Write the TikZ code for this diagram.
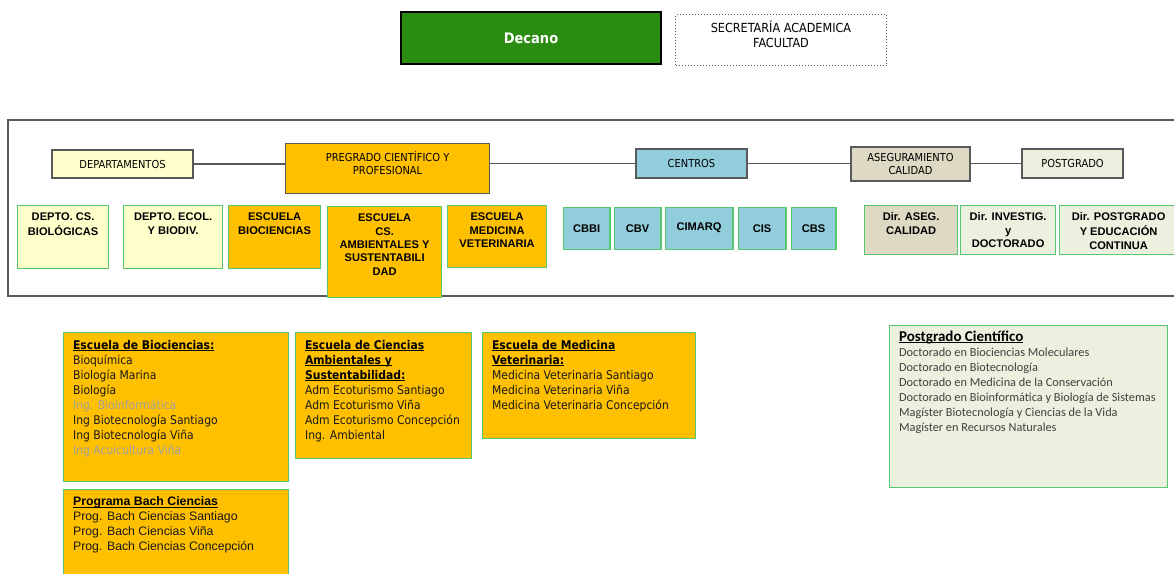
\documentclass[tikz,border=0pt]{standalone}
\usepackage{fontspec}
\setmainfont{DejaVu Sans Condensed}
\newfontfamily\arialfont{Liberation Sans}
\newfontfamily\calibrifont{Carlito}
\usetikzlibrary{positioning}

\definecolor{decano}{RGB}{42,140,16}
\definecolor{naranja}{RGB}{255,192,0}
\definecolor{crema}{RGB}{255,255,204}
\definecolor{celeste}{RGB}{146,205,220}
\definecolor{arena}{RGB}{221,217,195}
\definecolor{verdeclaro}{RGB}{235,241,222}
\definecolor{borde}{RGB}{86,200,110}
\definecolor{linea}{RGB}{89,89,89}
\definecolor{gristexto}{RGB}{160,160,160}

\newsavebox{\subbox}
\newcommand{\subr}[1]{\leavevmode\sbox{\subbox}{\textbf{#1}}\rlap{\rule[-1.6pt]{\wd\subbox}{0.9pt}}\usebox{\subbox}}
\newcommand{\topcell}[4]{\parbox[c][#2pt][t]{#1pt}{\centering\vspace*{#3pt}\strut#4}}
\newcommand{\listcell}[4]{\parbox[c][#2pt][t]{#1pt}{\raggedright\leftskip=9.5pt\vspace*{#3pt}\strut#4}}

\begin{document}
\begin{tikzpicture}[x=1pt,y=-1pt,
	head/.style={draw=linea, line width=1.2pt, inner sep=0pt, align=center, font=\fontsize{11}{13}\selectfont},
	cell/.style={draw=borde, line width=1.2pt, inner sep=0pt, anchor=north west, font=\arialfont\bfseries\fontsize{11.1}{13.3}\selectfont},
	list/.style={draw=borde, line width=1.2pt, inner sep=0pt, anchor=north west, fill=naranja, text=black!90, font=\fontsize{12}{15}\selectfont},
	link/.style={draw=linea, line width=1.2pt}]
	\useasboundingbox (0,0) rectangle (1174,573);
	\clip (0,0) rectangle (1174,573);

	\node[draw=black, line width=1.2pt, fill=decano, text=white, inner sep=0pt, minimum width=260, minimum height=52, font=\bfseries\fontsize{14.5}{17}\selectfont] (decano) at (531,38) {Decano};
	\node[draw=linea, dotted, line width=1pt, inner sep=0pt, anchor=north west, font=\fontsize{12.5}{15}\selectfont] (secre) at (675,14) {\topcell{211}{51}{6}{SECRETARÍA ACADEMICA\\FACULTAD}};

	\draw[linea, line width=1.2pt] (8,120) rectangle (1190,296);

	\node[head, fill=crema, minimum width=141, minimum height=28] (dep) at (122.5,164) {DEPARTAMENTOS};
	\node[head, fill=naranja, anchor=north west] (preg) at (285,143) {\topcell{204}{50}{7.5}{PREGRADO CIENTÍFICO Y\\PROFESIONAL}};
	\node[head, fill=celeste, minimum width=111, minimum height=29] (cen) at (691.5,163.5) {CENTROS};
	\node[head, fill=arena, minimum width=119, minimum height=34] (aseg) at (910.5,164) {ASEGURAMIENTO\\CALIDAD};
	\node[head, fill=verdeclaro, minimum width=101, minimum height=29] (post) at (1072.5,163.5) {POSTGRADO};

	\draw[link] (dep.east) -- (dep.east -| preg.west);
	\draw[link] (preg.east |- cen.west) -- (cen.west);
	\draw[link] (cen.east) -- (aseg.west |- cen.east);
	\draw[link] (aseg.east |- post.west) -- (post.west);

	\node[cell, fill=crema] (dcb) at (17,205) {\topcell{91}{63}{6}{DEPTO. CS.\\BIOLÓGICAS}};
	\node[cell, fill=crema] (deb) at (123,205) {\topcell{99}{63}{6}{DEPTO. ECOL.\\Y BIODIV.}};
	\node[cell, fill=naranja] (ebio) at (228,205) {\topcell{92}{63}{6}{ESCUELA\\BIOCIENCIAS}};
	\node[cell, fill=naranja] (eca) at (327,206) {\topcell{114}{91}{6}{ESCUELA\\CS.\\AMBIENTALES Y\\SUSTENTABILI\\DAD}};
	\node[cell, fill=naranja] (emv) at (447,205) {\topcell{99}{62}{6}{ESCUELA\\MEDICINA\\VETERINARIA}};

	\node[cell, fill=celeste, minimum width=46.8, minimum height=42] (cbbi) at (562.6,206.6) {CBBI};
	\node[cell, fill=celeste, minimum width=46.8, minimum height=42, right=3pt of cbbi] (cbv) {CBV};
	\node[cell, fill=celeste, minimum width=67.8, minimum height=42, right=3pt of cbv] (cimarq) {CIMARQ};
	\node[cell, fill=celeste, minimum width=47.8, minimum height=42, right=4pt of cimarq] (cis) {CIS};
	\node[cell, fill=celeste, minimum width=44.8, minimum height=42, right=4pt of cis] (cbs) {CBS};

	\node[cell, fill=arena] (dase) at (864,205) {\topcell{93}{49}{6}{Dir. ASEG.\\CALIDAD}};
	\node[cell, fill=verdeclaro] (dinv) at (960,205) {\topcell{95}{49}{6}{Dir. INVESTIG.\\y\\DOCTORADO}};
	\node[cell, fill=verdeclaro] (dpos) at (1059,205) {\topcell{118}{49}{6}{Dir. POSTGRADO\\Y EDUCACIÓN\\CONTINUA}};

	\node[list] (lbio) at (63,332) {\listcell{225}{149}{6.5}{\textcolor{black}{\subr{Escuela de Biociencias:}}\\Bioquímica\\Biología Marina\\Biología\\\textcolor{gristexto}{Ing. Bioinformática}\\Ing Biotecnología Santiago\\Ing Biotecnología Viña\\\textcolor{gristexto}{Ing Acuicultura Viña}}};
	\node[list] (lamb) at (295,332) {\listcell{176}{126}{6.5}{\textcolor{black}{\subr{Escuela de Ciencias}\\\subr{Ambientales y}\\\subr{Sustentabilidad:}}\\Adm Ecoturismo Santiago\\Adm Ecoturismo Viña\\Adm Ecoturismo Concepción\\Ing. Ambiental}};
	\node[list] (lmed) at (482,332) {\listcell{213}{106}{6.5}{\textcolor{black}{\subr{Escuela de Medicina}\\\subr{Veterinaria:}}\\Medicina Veterinaria Santiago\\Medicina Veterinaria Viña\\Medicina Veterinaria Concepción}};
	\node[list, font=\arialfont\fontsize{12.3}{15}\selectfont] (lbach) at (63,489) {\listcell{225}{90}{5.8}{\textcolor{black}{\subr{Programa Bach Ciencias}}\\Prog. Bach Ciencias Santiago\\Prog. Bach Ciencias Viña\\Prog. Bach Ciencias Concepción}};
	\node[list, fill=verdeclaro, text=black!75, font=\calibrifont\fontsize{12.3}{15}\selectfont] (lpost) at (889,325) {\listcell{278}{162}{5}{\textcolor{black}{\fontsize{15}{15}\selectfont\subr{Postgrado Científico}}\\Doctorado en Biociencias Moleculares\\Doctorado en Biotecnología\\Doctorado en Medicina de la Conservación\\Doctorado en Bioinformática y Biología de Sistemas\\Magíster Biotecnología y Ciencias de la Vida\\Magíster en Recursos Naturales}};
\end{tikzpicture}
\end{document}
